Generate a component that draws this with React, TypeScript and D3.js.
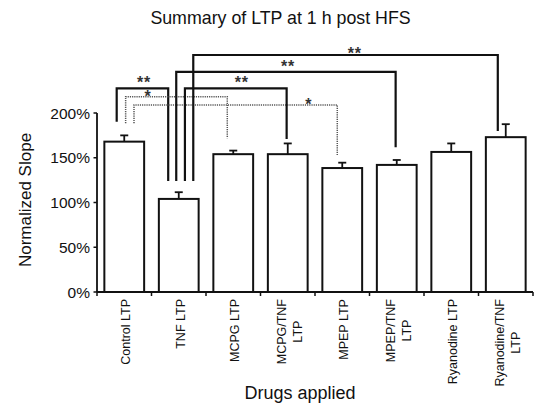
import React from "react";
import * as d3 from "d3";

const categories = [
  "Control LTP",
  "TNF LTP",
  "MCPG LTP",
  "MCPG/TNF LTP",
  "MPEP LTP",
  "MPEP/TNF LTP",
  "Ryanodine LTP",
  "Ryanodine/TNF LTP",
];
const categoryLines = [
  ["Control LTP"],
  ["TNF LTP"],
  ["MCPG LTP"],
  ["MCPG/TNF", "LTP"],
  ["MPEP LTP"],
  ["MPEP/TNF", "LTP"],
  ["Ryanodine LTP"],
  ["Ryanodine/TNF", "LTP"],
];
const means = [168, 104, 154, 154, 138.5, 142, 156.5, 173];
const errors = [7, 7.5, 4, 12, 6, 5.5, 9.5, 14.5];
const yTicks = [0, 50, 100, 150, 200];

// significance brackets: from/to category index, bracket level (%), leg ends (%),
// leg offsets as fraction of band width, label position fraction, label lift
const brFrom = [0, 0, 0, 1, 1, 1];
const brTo = [1, 2, 4, 3, 5, 7];
const brLevel = [227.6, 218.2, 209, 227.6, 246, 264.8];
const brFromEnd = [190.3, 188.5, 188.5, 124, 124, 124];
const brToEnd = [124, 171.7, 152, 171, 161.7, 180];
const brFromOff = [-0.19, 0.035, 0.245, 0.155, -0.063, 0.365];
const brToOff = [-0.265, -0.15, -0.125, -0.028, -0.028, -0.2];
const brDotted = [false, true, true, false, false, false];
const brLabel = ["**", "*", "*", "**", "**", "**"];
const brLabelT = [0.53, 0.22, 0.86, 0.56, 0.51, 0.53];
const brLabelLift = [9.3, 4.4, 4, 9.3, 9, 5];

const FONT = "'Liberation Sans', Arial, Helvetica, sans-serif";

function measure(text: string, size: number): number {
  const c = document.createElement("canvas").getContext("2d");
  if (!c) return text.length * size * 0.55;
  c.font = `${size}px 'Liberation Sans', Arial, sans-serif`;
  return c.measureText(text).width;
}

export default function App() {
  const W = 535;
  const H = 406;
  const x = d3
    .scaleBand<string>()
    .domain(categories)
    .range([97, 533])
    .paddingInner(0.27)
    .paddingOuter(0.135);
  const y = d3.scaleLinear().domain([0, 200]).range([292, 113]);
  const bw = x.bandwidth();
  const step = x.step();
  const x0 = 97;
  const boundaries = d3.range(categories.length + 1).map((i) => x0 + i * step);
  const cx = (i: number) => (x(categories[i]) as number) + bw / 2;

  const xlFs = 12.5;
  const lineGap = 16;

  return (
    <svg
      width={W}
      height={H}
      style={{ position: "absolute", left: 0, top: 0, background: "#fff" }}
      fontFamily={FONT}
    >
      <rect x={0} y={0} width={W} height={H} fill="#fff" />
      <text x={280.5} y={24} textAnchor="middle" fontSize={17.8} fill="#111">
        Summary of LTP at 1 h post HFS
      </text>

      {/* bars */}
      {categories.map((c, i) => (
        <g key={c}>
          <rect
            x={x(c)}
            y={y(means[i])}
            width={bw}
            height={y(0) - y(means[i])}
            fill="#fff"
            stroke="#111"
            strokeWidth={2}
          />
          <line
            x1={cx(i)}
            x2={cx(i)}
            y1={y(means[i])}
            y2={y(means[i] + errors[i])}
            stroke="#111"
            strokeWidth={1.8}
          />
          <line
            x1={cx(i) - 4}
            x2={cx(i) + 4}
            y1={y(means[i] + errors[i])}
            y2={y(means[i] + errors[i])}
            stroke="#111"
            strokeWidth={1.8}
          />
        </g>
      ))}

      {/* axes */}
      <line x1={97} x2={97} y1={y(200)} y2={y(0)} stroke="#111" strokeWidth={1.8} />
      <line x1={97} x2={533} y1={y(0)} y2={y(0)} stroke="#111" strokeWidth={1.8} />
      {yTicks.map((t) => (
        <g key={t}>
          <line x1={93.5} x2={97} y1={y(t)} y2={y(t)} stroke="#111" strokeWidth={1.5} />
          <text x={90} y={y(t)} dy="0.36em" textAnchor="end" fontSize={15.5} fill="#111">
            {t}%
          </text>
        </g>
      ))}
      {boundaries.map((b, i) => (
        <line key={i} x1={b} x2={b} y1={y(0)} y2={y(0) + 4} stroke="#111" strokeWidth={1.5} />
      ))}

      {/* x labels */}
      {categoryLines.map((lines, i) => {
        const maxW = Math.max(...lines.map((l) => measure(l, xlFs)));
        const yc = 299 + maxW / 2;
        const n = lines.length;
        return (
          <g key={i}>
            {lines.map((l, j) => {
              const lx = cx(i) + 1.5 + (j - (n - 1) / 2) * lineGap;
              return (
                <text
                  key={j}
                  transform={`translate(${lx},${yc}) rotate(-90)`}
                  textAnchor="middle"
                  dy="0.36em"
                  fontSize={xlFs}
                  fill="#111"
                >
                  {l}
                </text>
              );
            })}
          </g>
        );
      })}

      <text
        transform={`translate(25,200) rotate(-90)`}
        textAnchor="middle"
        dy="0.36em"
        fontSize={17}
        fill="#111"
      >
        Normalized Slope
      </text>
      <text x={300} y={399} textAnchor="middle" fontSize={18} fill="#111">
        Drugs applied
      </text>

      {/* significance brackets */}
      {brFrom.map((f, k) => {
        const t = brTo[k];
        const xa = cx(f) + brFromOff[k] * bw;
        const xb = cx(t) + brToOff[k] * bw;
        const yl = y(brLevel[k]);
        const path = `M${xa},${y(brFromEnd[k])}V${yl}H${xb}V${y(brToEnd[k])}`;
        const lx = xa + (xb - xa) * brLabelT[k];
        const ly = yl - brLabelLift[k];
        return (
          <g key={k}>
            <path
              d={path}
              fill="none"
              stroke={brDotted[k] ? "#555" : "#111"}
              strokeWidth={brDotted[k] ? 1.5 : 2.2}
              strokeDasharray={brDotted[k] ? "1.2,1" : undefined}
            />
            <text
              x={lx}
              y={ly}
              dy="0.58em"
              textAnchor="middle"
              fontSize={16}
              fontWeight="bold"
              letterSpacing={0.8}
              fill="#333"
            >
              {brLabel[k]}
            </text>
          </g>
        );
      })}
    </svg>
  );
}
